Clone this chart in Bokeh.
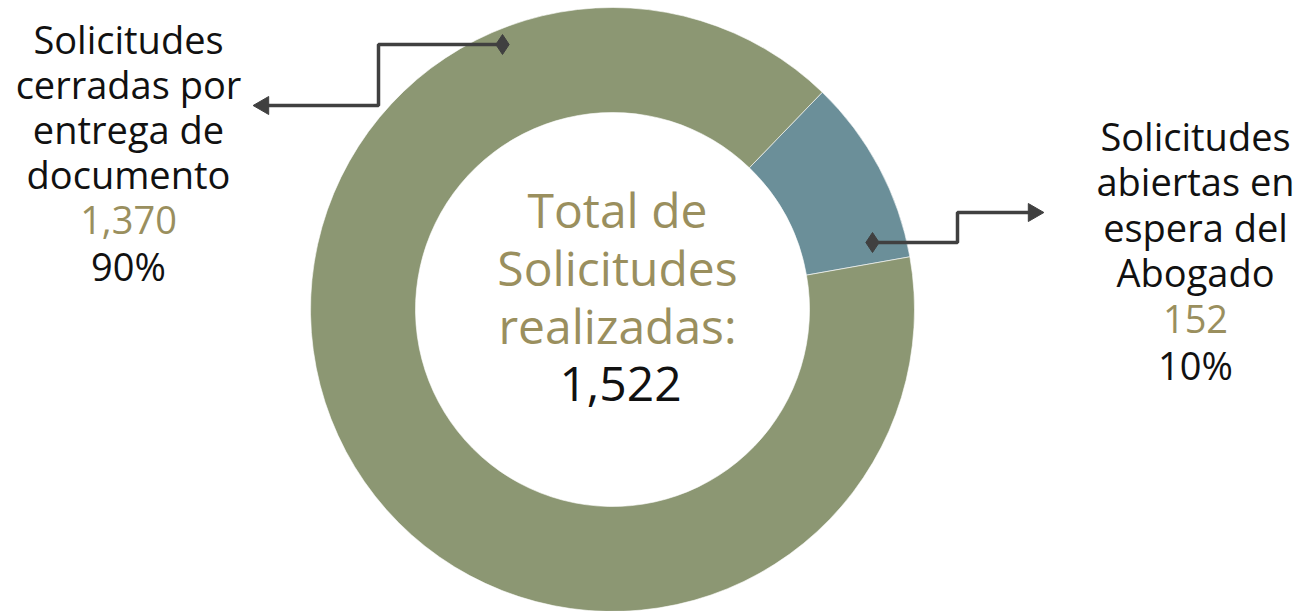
import math
from bokeh.plotting import figure
from bokeh.models import Range1d
from bokeh.core.properties import value
from bokeh.embed import file_html
from bokeh.resources import INLINE

# ---- data ----
categories = ["Solicitudes abiertas en espera del Abogado",
              "Solicitudes cerradas por entrega de documento"]
counts = [152, 1370]
colors = ["#6B8F99", "#8C9773"]
total = sum(counts)
left_label = ["Solicitudes", "cerradas por", "entrega de", "documento"]
right_label = ["Solicitudes", "abiertas en", "espera del", "Abogado"]
center_label = ["Total de", "Solicitudes", "realizadas:"]

FONT = "Open Sans"
OLIVE = "#9A8F5E"
LEADER = "#404040"

W, H = 1298, 611
p = figure(width=W, height=H, output_backend="svg", toolbar_location=None,
           x_range=Range1d(0, W), y_range=Range1d(H, 0),
           min_border=0, outline_line_color=None)
p.axis.visible = False
p.grid.visible = False
p.background_fill_color = "white"
p.border_fill_color = "white"

# ---- donut ----
cx, cy = 612, 309
R_out, R_in = 302, 197
start_cw_from_top = 44.0  # blue slice starts here, going clockwise
acc = start_cw_from_top
starts, ends = [], []
for c in counts:
    sweep = 360.0 * c / total
    starts.append(math.radians(90.0 - (acc + sweep)))
    ends.append(math.radians(90.0 - acc))
    acc += sweep

p.annular_wedge(x=[cx] * len(counts), y=[cy] * len(counts), inner_radius=R_in,
                outer_radius=R_out, start_angle=starts, end_angle=ends,
                fill_color=colors, line_color="white", line_width=0.6,
                direction="anticlock")

# ---- leader lines ----
p.line(x=[502, 378, 378, 266], y=[44, 44, 105, 105], line_color=LEADER, line_width=3.5)
p.scatter(x=[502], y=[44], marker="diamond", size=20, fill_color=LEADER, line_color=LEADER)
p.scatter(x=[263], y=[105], marker="triangle", angle=math.radians(90), size=18,
          fill_color=LEADER, line_color=LEADER)

p.line(x=[872, 957, 957, 1030], y=[242, 242, 212, 212], line_color=LEADER, line_width=3.5)
p.scatter(x=[872], y=[242], marker="diamond", size=20, fill_color=LEADER, line_color=LEADER)
p.scatter(x=[1033], y=[212], marker="triangle", angle=math.radians(-90), size=18,
          fill_color=LEADER, line_color=LEADER)

# ---- labels ----
def lines(x, y0, dy, texts, color, size):
    ys = [y0 + i * dy for i in range(len(texts))]
    p.text(x=[x] * len(texts), y=ys, text=texts, text_align="center",
           text_baseline="alphabetic", text_color=color,
           text_font=value(FONT), text_font_size=size)

lines(128, 38, 45.3, left_label, "#111111", "38px")
lines(128, 219, 45.3, [f"{counts[1]:,}"], OLIVE, "38px")
lines(128, 265, 45.3, [f"{round(100 * counts[1] / total)}%"], "#111111", "38px")

lines(1195, 135, 45.5, right_label, "#111111", "38px")
lines(1195, 318, 45.5, [f"{counts[0]:,}"], OLIVE, "38px")
lines(1195, 364, 45.5, [f"{round(100 * counts[0] / total)}%"], "#111111", "38px")

lines(617, 209, 58, center_label, OLIVE, "48px")
lines(620, 383, 58, [f"{total:,}"], "#111111", "48px")

open("out.html", "w").write(file_html(p, INLINE))
